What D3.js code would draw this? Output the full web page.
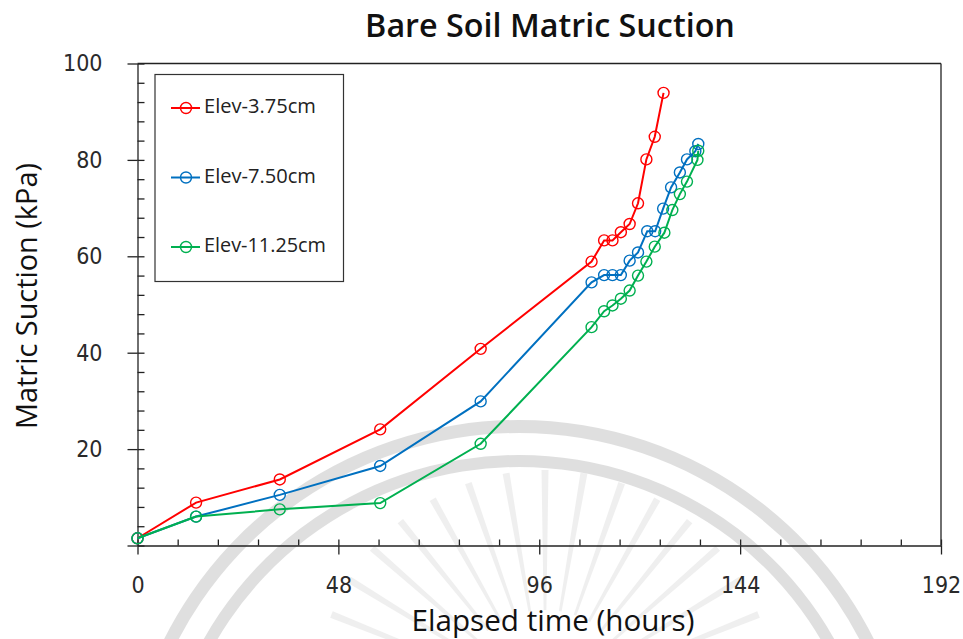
<!DOCTYPE html>
<html>
<head>
<meta charset="utf-8">
<script src="https://cdn.jsdelivr.net/npm/d3@7"></script>
<style>
  body { margin: 0; background: #fff; }
  svg { display: block; }
</style>
</head>
<body>
<div id="chart"></div>
<script>
// values
const seriesNames = ['Elev-3.75cm', 'Elev-7.50cm', 'Elev-11.25cm'];
const seriesColors = ['#ff0000', '#0070c0', '#00b050'];

const redHours = [0, 14, 34, 58, 82, 108.5, 111.5, 113.5, 115.5, 117.6, 119.6, 121.6, 123.6, 125.7];
const redSuction = [1.5, 8.9, 13.7, 24.1, 40.8, 58.9, 63.3, 63.3, 65.0, 66.7, 71.0, 80.1, 84.8, 93.9];

const blueHours = [0, 14, 34, 58, 82, 108.5, 111.5, 113.5, 115.5, 117.6, 119.6, 121.8, 123.7, 125.6, 127.5, 129.6, 131.3, 133.3, 134];
const blueSuction = [1.5, 6.0, 10.5, 16.5, 29.9, 54.6, 56.1, 56.1, 56.1, 59.1, 60.8, 65.2, 65.2, 69.9, 74.3, 77.4, 80.1, 81.8, 83.3];

const greenHours = [0, 14, 34, 58, 82, 108.5, 111.5, 113.5, 115.5, 117.6, 119.6, 121.6, 123.6, 125.9, 127.8, 129.6, 131.3, 133.8, 134];
const greenSuction = [1.5, 6.0, 7.5, 8.8, 21.1, 45.3, 48.6, 49.8, 51.2, 52.9, 56.0, 58.9, 62.0, 64.9, 69.6, 72.9, 75.5, 80.0, 81.9];

const xTicks = [0, 48, 96, 144, 192];
const yTicks = [0, 20, 40, 60, 80, 100];

const width = 963;
const height = 639;
const plot = { left: 137.5, right: 941, top: 63.5, bottom: 545.5 };

const series = [
  { name: seriesNames[0], color: seriesColors[0], pts: redHours.map((h, i) => [h, redSuction[i]]) },
  { name: seriesNames[1], color: seriesColors[1], pts: blueHours.map((h, i) => [h, blueSuction[i]]) },
  { name: seriesNames[2], color: seriesColors[2], pts: greenHours.map((h, i) => [h, greenSuction[i]]) }
];

const svg = d3.select('#chart').append('svg')
  .attr('width', width)
  .attr('height', height);

svg.append('rect').attr('width', width).attr('height', height).attr('fill', '#fff');

// faint watermark behind the chart
const wmArc = d3.arc();
const wmBands = svg.append('g').attr('fill', '#000').attr('opacity', 0.12);
wmBands.append('path')
  .attr('transform', 'translate(519,817)')
  .attr('d', wmArc({ innerRadius: 384, outerRadius: 397, startAngle: -1.3, endAngle: 1.3 }));
wmBands.append('path')
  .attr('transform', 'translate(519,817)')
  .attr('d', wmArc({ innerRadius: 350, outerRadius: 362, startAngle: -1.3, endAngle: 1.3 }));
const wmRays = svg.append('g').attr('fill', '#000').attr('opacity', 0.06);
d3.range(-7, 8).forEach(k => {
  const a = k * 0.17;
  wmRays.append('path')
    .attr('transform', 'translate(545,700)')
    .attr('d', wmArc({ innerRadius: 90, outerRadius: 230, startAngle: a - 0.015, endAngle: a + 0.015 }));
});

const x = d3.scaleLinear().domain([0, 192]).range([plot.left, plot.right]);
const y = d3.scaleLinear().domain([0, 100]).range([plot.bottom, plot.top]);

const axisColor = '#222';
const tickFont = '"Liberation Sans Narrow", "DejaVu Sans Condensed", sans-serif';

// x axis: major ticks out + labels, minor ticks inward
const xMajor = svg.append('g')
  .attr('transform', `translate(0,${plot.bottom})`)
  .call(d3.axisBottom(x).tickValues(xTicks).tickSize(9).tickSizeOuter(0).tickPadding(22));
const xMinor = svg.append('g')
  .attr('transform', `translate(0,${plot.bottom})`)
  .call(d3.axisBottom(x).tickValues(d3.range(0, 21).map(i => i * 9.6)).tickSize(-6).tickFormat(''));
xMinor.select('.domain').remove();

// y axis
const yMajor = svg.append('g')
  .attr('transform', `translate(${plot.left},0)`)
  .call(d3.axisLeft(y).tickValues(yTicks).tickSize(10).tickSizeOuter(0).tickPadding(25)
    .tickFormat(d => d === 0 ? '' : d));
const yMinor = svg.append('g')
  .attr('transform', `translate(${plot.left},0)`)
  .call(d3.axisLeft(y).tickValues(d3.range(0, 101, 4)).tickSize(-7).tickFormat(''));
yMinor.select('.domain').remove();

[xMajor, xMinor, yMajor, yMinor].forEach(g => {
  g.selectAll('line').attr('stroke', axisColor).attr('stroke-width', 1.3);
  g.selectAll('.domain').attr('stroke', axisColor).attr('stroke-width', 1.3);
  g.selectAll('text')
    .attr('font-family', tickFont)
    .attr('font-size', 23)
    .attr('fill', '#2a2a2a');
});

// top and right frame
svg.append('line')
  .attr('x1', plot.left).attr('x2', plot.right)
  .attr('y1', plot.top).attr('y2', plot.top)
  .attr('stroke', axisColor).attr('stroke-width', 1.3);
svg.append('line')
  .attr('x1', plot.right).attr('x2', plot.right)
  .attr('y1', plot.top).attr('y2', plot.bottom)
  .attr('stroke', axisColor).attr('stroke-width', 1.3);

// series
const line = d3.line().x(d => x(d[0])).y(d => y(d[1]));
series.forEach(s => {
  const g = svg.append('g');
  g.append('path')
    .attr('d', line(s.pts))
    .attr('fill', 'none')
    .attr('stroke', s.color)
    .attr('stroke-width', 2);
  g.selectAll('circle')
    .data(s.pts)
    .enter()
    .append('circle')
    .attr('cx', d => x(d[0]))
    .attr('cy', d => y(d[1]))
    .attr('r', 5.5)
    .attr('fill', 'none')
    .attr('stroke', s.color)
    .attr('stroke-width', 1.4);
});

const labelFont = '"Open Sans", "Noto Sans", sans-serif';

function fitWidth(sel, target) {
  const len = sel.node().getComputedTextLength();
  const fs = +sel.attr('font-size');
  sel.attr('font-size', fs * target / len);
}

// legend
const legend = svg.append('g');
legend.append('rect')
  .attr('x', 155).attr('y', 74.5)
  .attr('width', 188.5).attr('height', 207)
  .attr('fill', '#fff')
  .attr('stroke', '#333')
  .attr('stroke-width', 1.2);
const legendY = [108, 177.5, 247];
series.forEach((s, i) => {
  const ly = legendY[i];
  legend.append('line')
    .attr('x1', 171).attr('x2', 200)
    .attr('y1', ly).attr('y2', ly)
    .attr('stroke', s.color).attr('stroke-width', 2);
  legend.append('circle')
    .attr('cx', 186).attr('cy', ly).attr('r', 5.5)
    .attr('fill', 'none').attr('stroke', s.color).attr('stroke-width', 1.4);
  const t = legend.append('text')
    .attr('x', 204).attr('y', ly + 5)
    .attr('font-family', labelFont)
    .attr('font-size', 19)
    .attr('fill', '#222')
    .text(s.name);
  fitWidth(t, [112, 112, 122][i]);
});

// titles
const title = svg.append('text')
  .attr('x', 550).attr('y', 37)
  .attr('text-anchor', 'middle')
  .attr('font-family', labelFont)
  .attr('font-weight', 600)
  .attr('font-size', 30)
  .attr('fill', '#111')
  .text('Bare Soil Matric Suction');
fitWidth(title, 370);

const xLabel = svg.append('text')
  .attr('x', 553).attr('y', 631)
  .attr('text-anchor', 'middle')
  .attr('font-family', labelFont)
  .attr('font-weight', 500)
  .attr('font-size', 26)
  .attr('fill', '#111')
  .text('Elapsed time (hours)');
fitWidth(xLabel, 283);

const yLabel = svg.append('text')
  .attr('transform', 'translate(37,296) rotate(-90)')
  .attr('text-anchor', 'middle')
  .attr('font-family', labelFont)
  .attr('font-weight', 500)
  .attr('font-size', 26)
  .attr('fill', '#111')
  .text('Matric Suction (kPa)');
fitWidth(yLabel, 266);
</script>
</body>
</html>
